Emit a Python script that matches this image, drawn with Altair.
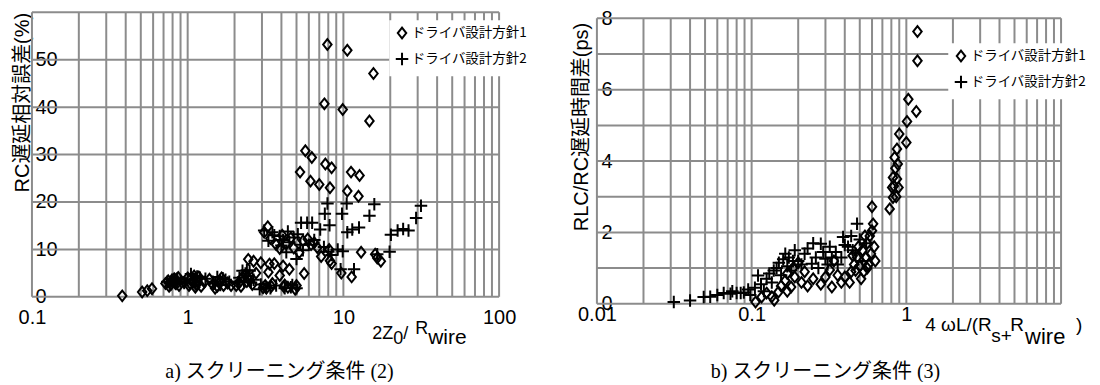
import altair as alt
import pandas as pd

S1 = "ドライバ設計方針1"
S2 = "ドライバ設計方針2"

# ---- panel a: 2Z0/Rwire vs RC delay relative error (%) ----
a1_x = [0.38, 0.51, 0.55, 0.59, 0.72, 0.75, 0.78, 0.80, 0.82, 0.86, 0.88, 1.02, 1.05, 1.08, 1.10,
        1.15, 1.22, 1.38, 1.50, 1.55, 1.62, 1.70, 1.80, 2.05, 2.15, 2.35, 2.45, 2.65, 2.95, 3.35,
        3.15, 3.27, 3.10, 3.20, 3.60, 3.90, 4.05, 4.10, 4.30, 4.20, 4.50, 5.00, 5.20, 5.50, 5.60,
        6.20, 6.50, 7.20, 8.10, 8.20, 8.40, 9.70, 11.3, 13.0, 16.0, 16.5, 17.4,
        5.27, 5.70, 6.27, 6.15, 7.00, 7.66, 8.40, 8.20, 7.55, 7.89, 9.90, 10.6, 10.6, 11.2, 12.7,
        12.5, 14.7, 15.6,
        0.76, 0.84, 0.95, 1.00, 1.12, 1.18, 1.28, 1.45, 1.65, 1.90, 2.20, 2.50, 2.75, 3.40, 3.70,
        4.60, 4.80, 5.90, 6.80, 3.45, 4.40, 4.90, 3.30, 3.90,
        0.79, 0.83, 0.87, 1.04, 1.09, 1.14, 2.25, 2.40, 2.60, 3.05, 3.50, 4.15]
a1_y = [0.2, 1.0, 1.3, 1.7, 2.8, 3.4, 2.6, 3.2, 3.8, 3.0, 2.4, 2.4, 3.9, 3.0, 4.4,
        3.2, 2.2, 3.7, 1.8, 2.2, 3.3, 2.4, 2.9, 2.4, 3.0, 4.6, 7.9, 7.5, 7.2, 6.9,
        2.4, 14.8, 13.6, 1.8, 7.0, 10.2, 13.0, 6.5, 11.2, 2.5, 5.8, 2.4, 9.3, 11.8, 4.9,
        11.0, 11.4, 8.5, 10.0, 7.6, 7.0, 5.0, 4.2, 9.4, 9.0, 8.2, 7.5,
        26.3, 30.8, 29.4, 24.4, 23.7, 28.0, 27.2, 23.0, 40.7, 53.2, 39.5, 52.0, 22.3, 26.3, 25.6,
        21.2, 37.1, 47.1,
        2.2, 3.6, 3.1, 4.0, 2.0, 4.2, 3.1, 2.6, 4.0, 2.4, 2.2, 3.5, 5.0, 12.3, 11.0,
        12.4, 10.3, 12.2, 10.4, 2.2, 2.0, 1.6, 5.2, 4.5,
        3.5, 2.9, 4.1, 2.8, 3.5, 2.6, 4.1, 3.2, 2.6, 1.9, 2.8, 2.1]
a2_x = [0.74, 0.80, 0.84, 0.90, 1.05, 1.10, 1.12, 1.20, 1.45, 1.55, 1.62, 1.75, 2.15, 2.25, 2.30,
        2.40, 2.50, 2.55, 2.65, 2.90, 2.95, 3.10, 3.30, 3.50, 3.70, 3.90, 4.00, 4.20, 4.30, 4.50,
        4.70, 5.00, 5.10, 5.35, 5.85, 6.30, 5.50, 6.00, 7.10, 7.60, 7.90, 8.15, 8.00, 7.50, 9.60,
        9.80, 9.90, 10.5, 10.6, 11.4, 11.7, 12.6, 14.7, 15.8, 16.5, 19.8, 20.2, 22.3, 24.2, 26.2,
        29.3, 31.5,
        0.77, 0.86, 0.95, 1.00, 1.15, 1.30, 1.50, 1.68, 1.85, 2.10, 2.35, 2.45, 3.20, 3.40, 3.60,
        4.10, 4.40, 4.80, 5.30, 6.50, 4.60, 5.00, 8.40, 9.20]
a2_y = [3.2, 3.6, 2.7, 3.3, 4.8, 3.5, 2.6, 4.0, 3.2, 4.2, 2.5, 3.6, 4.0, 5.5, 3.4,
        5.6, 5.5, 3.0, 3.6, 1.6, 2.6, 14.0, 11.8, 13.6, 2.4, 12.8, 10.8, 1.8, 9.4, 11.5,
        2.5, 8.0, 13.2, 15.6, 15.6, 15.6, 9.8, 11.0, 14.2, 17.5, 19.7, 15.1, 9.5, 10.5, 5.8,
        17.5, 9.6, 19.7, 13.6, 14.2, 5.8, 14.6, 17.1, 19.5, 9.0, 9.5, 13.1, 14.0, 14.3, 14.0,
        16.6, 19.2,
        2.8, 3.9, 2.9, 3.6, 4.3, 3.8, 2.8, 3.9, 3.2, 3.0, 4.9, 4.4, 2.0, 1.8, 13.0,
        12.0, 13.8, 12.5, 11.0, 12.0, 2.0, 1.8, 8.8, 10.0]

# ---- panel b: 4wL/(Rs+Rwire) vs RLC/RC delay difference (ps) ----
b1_x = [0.106, 0.116, 0.125, 0.135, 0.149, 0.155, 0.165, 0.17, 0.18, 0.185, 0.19, 0.20, 0.21, 0.23,
        0.25, 0.28, 0.30, 0.32, 0.33, 0.34, 0.38, 0.40, 0.44, 0.46, 0.47, 0.48, 0.50, 0.52, 0.53,
        0.55, 0.56, 0.57, 0.58, 0.60, 0.62, 0.61, 0.60, 0.63, 0.78, 0.82, 0.81, 0.89, 0.82, 0.87,
        0.88, 0.84, 0.87, 1.00, 0.90, 1.01, 1.16, 1.03, 1.18, 1.18,
        0.45, 0.49, 0.51, 0.54, 0.56, 0.59, 0.43, 0.36, 0.22, 0.17, 0.14, 0.86, 0.85, 0.83]
b1_y = [0.05, 0.19, 0.3, 0.2, 0.33, 0.5, 0.65, 0.85, 0.47, 1.0, 0.75, 1.15, 0.6, 0.5,
        0.7, 0.55, 0.75, 0.95, 0.47, 1.2, 0.6, 0.75, 0.9, 1.1, 0.93, 1.3, 1.05, 1.5, 0.9,
        1.3, 1.7, 1.1, 1.9, 2.05, 1.6, 2.24, 2.72, 1.2, 2.66, 2.98, 3.26, 3.26, 3.54, 3.5,
        3.92, 4.10, 4.34, 4.52, 4.76, 5.11, 5.39, 5.73, 6.81, 7.63,
        1.35, 1.6, 0.7, 1.9, 1.0, 1.4, 0.6, 0.8, 0.9, 0.35, 0.1, 3.0, 3.8, 3.3]
b2_x = [0.0314, 0.040, 0.049, 0.054, 0.060, 0.066, 0.073, 0.080, 0.089, 0.098, 0.095, 0.105, 0.11,
        0.115, 0.125, 0.13, 0.139, 0.145, 0.15, 0.16, 0.165, 0.174, 0.18, 0.19, 0.20, 0.22, 0.25,
        0.245, 0.27, 0.28, 0.30, 0.31, 0.33, 0.35, 0.36, 0.39, 0.42, 0.45, 0.48, 0.50, 0.52, 0.55,
        0.12, 0.135, 0.155, 0.17, 0.185, 0.21, 0.23, 0.26, 0.29, 0.32, 0.38, 0.40, 0.44, 0.47,
        0.075, 0.085]
b2_y = [0.05, 0.09, 0.19, 0.2, 0.25, 0.3, 0.28, 0.3, 0.32, 0.25, 0.4, 0.45, 0.79,
        0.55, 0.7, 0.85, 0.93, 1.0, 1.15, 1.25, 1.4, 1.3, 0.93, 1.5, 1.2, 1.4, 1.70,
        1.12, 1.0, 1.68, 1.26, 1.1, 1.3, 1.45, 1.1, 1.87, 1.6, 1.5, 2.24, 1.8, 1.2, 1.7,
        0.35, 0.6, 0.8, 1.05, 1.2, 1.1, 1.55, 1.3, 1.45, 1.6, 1.3, 1.65, 1.9, 1.4,
        0.35, 0.3]

# grid and tick lists
a_xgrid = [0.1, 0.2, 0.3, 0.4, 0.5, 0.6, 0.7, 0.8, 0.9, 1, 2, 3, 4, 5, 6, 7, 8, 9,
           10, 20, 30, 40, 50, 60, 70, 80, 90, 100]
a_ygrid = [0, 10, 20, 30, 40, 50, 60]
a_xlabels = [0.1, 1, 10, 100]
a_ylabels = [0, 10, 20, 30, 40, 50]
b_xgrid = [0.01, 0.02, 0.03, 0.04, 0.05, 0.06, 0.07, 0.08, 0.09, 0.1, 0.2, 0.3, 0.4, 0.5, 0.6,
           0.7, 0.8, 0.9, 1, 2, 3, 4, 5, 6, 7, 8, 9, 10]
b_ygrid = [0, 1, 2, 3, 4, 5, 6, 7, 8]
b_xlabels = [0.01, 0.1, 1]
b_ylabels = [0, 2, 4, 6, 8]

GRID = "#8c8c8c"
LAT = "Liberation Sans, Noto Sans CJK JP, sans-serif"
CJK = "Noto Sans CJK JP, sans-serif"
CAP = "Liberation Serif, Noto Sans CJK JP, serif"
DIAMOND = "M0,-1.2L0.95,0L0,1.2L-0.95,0Z"
PLUS = "M-1.4,0L1.4,0M0,-1.4L0,1.4"
MSIZE = 80


def txt(s, x, y, size, font=LAT, align="left", baseline="alphabetic"):
    return alt.Chart(alt.Data(values=[{}])).mark_text(
        text=s, font=font, fontSize=size, align=align, baseline=baseline, color="black"
    ).encode(x=alt.value(x), y=alt.value(y))


def panel(d1x, d1y, d2x, d2y, xdom, ydom, ygtop, w, h, xgrid, ygrid, xlab, ylab,
          ytitle, ytx, yty, xlabpad, ylabpad, legx, legy, texts):
    df = pd.DataFrame({"x": d1x + d2x, "y": d1y + d2y,
                       "s": [S1] * len(d1x) + [S2] * len(d2x)})
    xs = alt.Scale(type="log", domain=xdom, nice=False)
    ys = alt.Scale(domain=ydom, nice=False, zero=False)
    xaxis = alt.Axis(values=xlab, format="~r", title=None, grid=False, domain=False, ticks=False,
                     tickSize=0, labelPadding=xlabpad, labelFontSize=20, labelFont=LAT,
                     labelColor="black", labelFlush=False, labelOverlap=False)
    yaxis = alt.Axis(values=ylab, format="~r", title=ytitle, grid=False, domain=False, ticks=False,
                     tickSize=0, labelAlign="left", labelBaseline="middle", labelPadding=ylabpad,
                     labelFontSize=20, labelFont=LAT, labelColor="black", labelFlush=False,
                     labelOverlap=False, titleFont=LAT, titleFontSize=20, titleFontWeight="normal",
                     titleColor="black", titleAngle=270, titleAlign="right", titleBaseline="middle",
                     titleX=ytx, titleY=yty)
    # vertical grid lines carry the x axis, horizontal grid lines carry the y axis
    vg = alt.Chart(pd.DataFrame({"g": xgrid})).mark_rule(color=GRID, strokeWidth=2).encode(
        x=alt.X("g:Q", scale=xs, axis=xaxis),
        y=alt.YDatum(ydom[0], scale=ys),
        y2=alt.Y2Datum(ygtop),
    )
    hg = alt.Chart(pd.DataFrame({"g": ygrid})).mark_rule(color=GRID, strokeWidth=2).encode(
        y=alt.Y("g:Q", scale=ys, axis=yaxis),
        x=alt.XDatum(xdom[0], scale=xs),
        x2=alt.X2Datum(xdom[1]),
    )
    leg = alt.Legend(title=None, orient="none", legendX=legx, legendY=legy, fillColor="white",
                     padding=6, labelFont=CJK, labelFontSize=13.5, labelColor="black",
                     symbolSize=MSIZE, symbolStrokeWidth=2, symbolStrokeColor="black",
                     symbolFillColor="transparent", rowPadding=5, labelOffset=3, zindex=2)
    pts = alt.Chart(df).mark_point(filled=False, strokeWidth=2, color="black", size=MSIZE,
                                   opacity=1).encode(
        x=alt.X("x:Q", scale=xs, axis=xaxis),
        y=alt.Y("y:Q", scale=ys, axis=yaxis),
        shape=alt.Shape("s:N", scale=alt.Scale(domain=[S1, S2], range=[DIAMOND, PLUS]),
                        legend=leg),
    )
    return alt.layer(vg, hg, pts, *texts).properties(width=w, height=h)


left = panel(
    a1_x, a1_y, a2_x, a2_y, [0.1, 100], [0, 60], 60, 468, 285,
    a_xgrid, a_ygrid, a_xlabels, a_ylabels, "RC遅延相対誤差(%)", -9, 0, 11, -3, 358, 8,
    [
        txt("2Z", 341, 327, 18),
        txt("0", 362, 332, 18),
        txt("/", 372, 327, 18),
        txt("R", 384, 322, 18),
        txt("wire", 397, 332, 21),
        txt("a) スクリーニング条件 (2)", 248, 360, 20, font=CAP, align="center", baseline="middle"),
    ],
)

right = panel(
    b1_x, b1_y, b2_x, b2_y, [0.01, 10], [0, 8.168], 8, 465, 292,
    b_xgrid, b_ygrid, b_xlabels, b_ylabels, "RLC/RC遅延時間差(ps)", -15, 10, 1, -4, 352, 31,
    [
        txt("4 ωL/(R", 329, 319, 19),
        txt("s+", 395, 330, 19),
        txt("R", 414, 319, 19),
        txt("wire", 429, 332, 22),
        txt(")", 480, 319, 19),
        txt("b) スクリーニング条件 (3)", 229, 360, 20, font=CAP, align="center", baseline="middle"),
    ],
)

chart = (
    alt.hconcat(left, right, spacing=98, bounds="flush")
    .resolve_scale(x="independent", y="independent", shape="independent")
    .resolve_legend(shape="independent")
    .properties(padding={"left": 5, "top": 0, "right": 0, "bottom": 0}, background="white")
    .configure_view(stroke=None)
)

chart.save("out.html", embed_options={"renderer": "svg", "actions": False})
